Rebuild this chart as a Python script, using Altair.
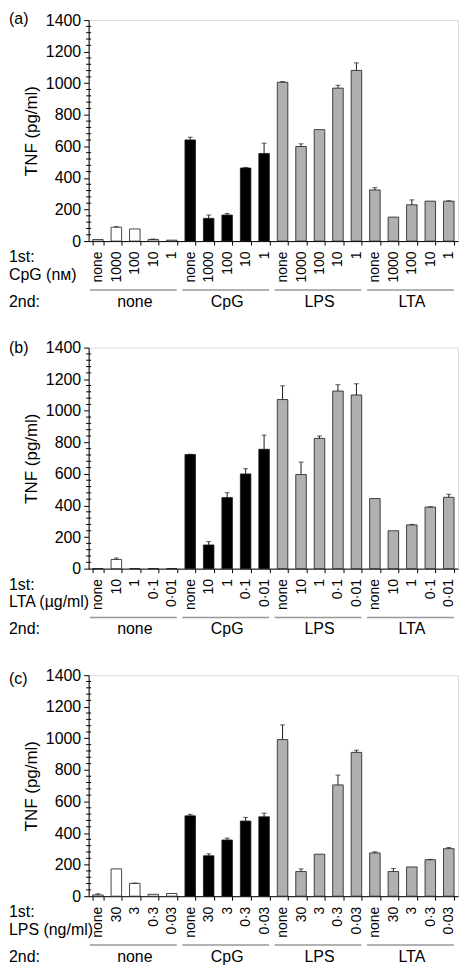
import altair as alt
import pandas as pd

GROUPS = ["none", "CpG", "LPS", "LTA"]

A_DOSES = ["none", "1000", "100", "10", "1"]
A_VALS = [10, 88, 77, 10, 6,
          641, 144, 165, 463, 555,
          1006, 599, 706, 969, 1081,
          324, 152, 230, 253, 253]
A_ERR = [0, 3, 0, 3, 0,
         17, 21, 10, 4, 65,
         4, 17, 0, 18, 48,
         14, 0, 31, 0, 2]

B_DOSES = ["none", "10", "1", "0·1", "0·01"]
B_VALS = [0, 58, 0, 0, 0,
          723, 150, 450, 600, 756,
          1071, 596, 825, 1125, 1100,
          444, 240, 277, 390, 452]
B_ERR = [0, 9, 0, 0, 0,
         2, 21, 31, 33, 90,
         87, 79, 15, 40, 71,
         0, 0, 3, 2, 19]

C_DOSES = ["none", "30", "3", "0·3", "0·03"]
C_VALS = [8, 173, 81, 12, 17,
          509, 256, 356, 476, 503,
          992, 156, 266, 705, 911,
          274, 156, 185, 231, 301]
C_ERR = [7, 0, 2, 0, 0,
         9, 12, 12, 23, 23,
         93, 17, 0, 62, 14,
         7, 19, 0, 2, 7]

Y_MAJOR = [0, 200, 400, 600, 800, 1000, 1200, 1400]
Y_MINOR = [v for v in range(0, 1401, 40) if v % 200 != 0]

PANELS = [
    ("(a)", "CpG (nᴍ)", A_DOSES, A_VALS, A_ERR, -1),
    ("(b)", "LTA (µg/ml)", B_DOSES, B_VALS, B_ERR, 0),
    ("(c)", "LPS (ng/ml)", C_DOSES, C_VALS, C_ERR, 4),
]

W = 371
H = 222
LEFT = -80
FONT = "Liberation Sans"
HATCH = "#b0b0b0"


def panel(letter, first_title, doses, vals, errs, letter_dy):
    rows = []
    for gi, g in enumerate(GROUPS):
        for di, d in enumerate(doses):
            k = gi * len(doses) + di
            rows.append({"id": f"{gi}{di}|{d}", "group": g,
                         "value": vals[k], "err": errs[k],
                         "top": vals[k] + errs[k]})
    df = pd.DataFrame(rows)
    order = list(df["id"])

    xscale = alt.Scale(domain=order, paddingInner=0.43, paddingOuter=0.215)
    xaxis = alt.Axis(title=None, labelExpr="split(datum.label, '|')[1]",
                     labelAngle=-90, tickBand="extent", tickSize=4,
                     labelPadding=6, labelFontSize=14, labelOverlap=False)
    yscale = alt.Scale(domain=[0, 1400], nice=False)
    yaxis = alt.Axis(title="TNF (pg/ml)", values=Y_MAJOR, format="d",
                     tickSize=5, labelPadding=3, labelFontSize=16,
                     titleFontSize=17, titlePadding=5, labelOverlap=False,
                     grid=False)

    def X(field):
        return alt.X(field, type="nominal", scale=xscale, axis=xaxis)

    def Y(field):
        return alt.Y(field, type="quantitative", scale=yscale, axis=yaxis)

    bars = alt.Chart(df).mark_bar(stroke="#1a1a1a", strokeWidth=0.8).encode(
        x=X("id"), y=Y("value"),
        color=alt.Color("group:N", scale=alt.Scale(domain=GROUPS,
                        range=["white", "black", HATCH, HATCH]), legend=None),
    )

    df_err = df[df["err"] > 0]
    err_rule = alt.Chart(df_err).mark_rule(color="#1a1a1a", strokeWidth=1).encode(
        x=X("id"), y=Y("value"), y2="top:Q")
    err_cap = alt.Chart(df_err).mark_tick(color="#1a1a1a", size=5, thickness=1).encode(
        x=X("id"), y=Y("top"))

    minor = alt.Chart(pd.DataFrame({"v": Y_MINOR})).mark_rule(
        color="black", strokeWidth=1).encode(
        y=Y("v"), x=alt.value(-2.5), x2=alt.value(2.5))

    gdf = pd.DataFrame({
        "group": GROUPS,
        "first": [order[i * 5] for i in range(4)],
        "mid": [order[i * 5 + 2] for i in range(4)],
        "last": [order[i * 5 + 4] for i in range(4)],
    })
    glines = alt.Chart(gdf).mark_rule(color="#999999", strokeWidth=1.5,
                                      xOffset=-8, x2Offset=5).encode(
        x=X("first"), x2="last:N", y=alt.value(H + 49))
    glabels = alt.Chart(gdf).mark_text(fontSize=16, font=FONT, baseline="alphabetic",
                                       color="black").encode(
        x=X("mid"), y=alt.value(H + 66), text="group:N")

    def left_text(t, ypos, baseline="alphabetic"):
        return alt.Chart(pd.DataFrame({"t": [t]})).mark_text(
            fontSize=16, font=FONT, align="left", baseline=baseline, color="black"
        ).encode(x=alt.value(LEFT), y=alt.value(ypos), text="t:N")

    texts = [
        left_text(letter, letter_dy, "middle"),
        left_text("1st:", H + 21),
        left_text(first_title, H + 39),
        left_text("2nd:", H + 66),
    ]

    return alt.layer(bars, err_rule, err_cap, minor, glines, glabels, *texts).properties(
        width=W, height=H)


charts = [panel(*p) for p in PANELS]
chart = (
    alt.vconcat(*charts, spacing=28)
    .properties(padding=0)
    .configure_view(stroke=None)
    .configure(font=FONT)
    .configure_axis(labelFont=FONT, titleFont=FONT, labelColor="black",
                    titleColor="black", titleFontWeight="normal",
                    domainColor="black", tickColor="black", domainWidth=1,
                    tickWidth=1)
)

chart.save("out.html", embed_options={"renderer": "svg", "actions": False})
